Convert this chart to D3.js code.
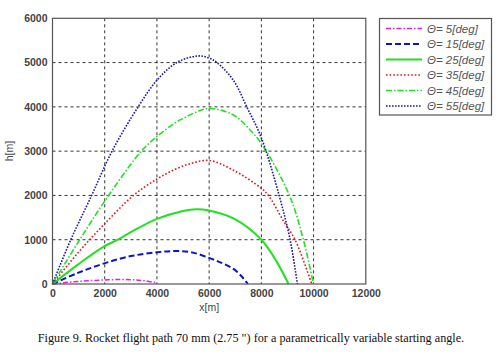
<!DOCTYPE html>
<html>
<head>
<meta charset="utf-8">
<script src="https://cdn.jsdelivr.net/npm/d3@7"></script>
<style>
  body { margin: 0; background: #fff; }
  svg { display: block; }
</style>
</head>
<body>
<svg id="chart" width="500" height="355"></svg>
<script>
// ---- Data ----
const xTicks = [0, 2000, 4000, 6000, 8000, 10000, 12000];
const yTicks = [0, 1000, 2000, 3000, 4000, 5000, 6000];

const angles = [5, 15, 25, 35, 45, 55];
const legendLabels = ["Θ= 5[deg]", "Θ= 15[deg]", "Θ= 25[deg]", "Θ= 35[deg]", "Θ= 45[deg]", "Θ= 55[deg]"];

const x5  = [0, 500, 1000, 1500, 2000, 2500, 3000, 3500, 4000];
const h5  = [0, 32, 58, 78, 92, 100, 97, 75, 25];

const x15 = [0, 930, 1950, 3000, 4000, 4700, 5300, 6000, 6500, 6930, 7250, 7480];
const h15 = [0, 240, 460, 630, 715, 745, 720, 590, 470, 340, 170, 0];

const x25 = [0, 1000, 1950, 2500, 3000, 4000, 5000, 5500, 6000, 6930, 8000, 8590, 9040];
const h25 = [0, 450, 840, 1000, 1170, 1470, 1650, 1690, 1660, 1480, 1000, 500, 0];

const x35 = [0, 1000, 1950, 3100, 4000, 4700, 5300, 6000, 6930, 8000, 8270, 8850, 9290, 9930];
const h35 = [0, 720, 1330, 2000, 2370, 2590, 2720, 2790, 2570, 2160, 2000, 1420, 1000, 0];

const x45 = [0, 1000, 2150, 3400, 4000, 4700, 5000, 5500, 6000, 6930, 7570, 8080, 9075, 9610, 9994];
const h45 = [0, 960, 2000, 3000, 3330, 3640, 3740, 3880, 3965, 3816, 3477, 3100, 2000, 1000, 0];

const x55 = [0, 700, 1500, 2280, 3280, 4000, 4760, 5580, 6000, 6300, 6930, 7440, 8000, 8680, 9100, 9380];
const h55 = [0, 1000, 2000, 3000, 4000, 4600, 5000, 5150, 5100, 5000, 4600, 4000, 3300, 2000, 1000, 0];

const seriesX = [x5, x15, x25, x35, x45, x55];
const seriesH = [h5, h15, h25, h35, h45, h55];

// ---- Styles ----
const colors = ["#e020e0", "#0a14c8", "#22e022", "#e01818", "#22e022", "#1a1aa8"];
const dashes = ["5,2,1.5,2", "6,3", null, "1.6,2", "6,2,1.5,2", "1.6,1.4"];
const widths = [1.5, 2, 2, 1.6, 1.6, 1.6];

// ---- Layout ----
const svg = d3.select("#chart");
const L = 52.5, R = 365.8, T = 18.3, B = 284;

const x = d3.scaleLinear().domain([0, 12000]).range([L, R]);
const y = d3.scaleLinear().domain([0, 6000]).range([B, T]);

// grid
const grid = svg.append("g");
grid.selectAll("line.vx").data(xTicks.slice(1, -1)).join("line")
  .attr("x1", d => x(d)).attr("x2", d => x(d))
  .attr("y1", T).attr("y2", B)
  .attr("stroke", "#333").attr("stroke-width", 1).attr("stroke-dasharray", "3,3");
grid.selectAll("line.hy").data(yTicks.slice(1, -1)).join("line")
  .attr("x1", L).attr("x2", R)
  .attr("y1", d => y(d)).attr("y2", d => y(d))
  .attr("stroke", "#333").attr("stroke-width", 1).attr("stroke-dasharray", "3,3");

// curves
const lineGen = d3.line().x(d => x(d[0])).y(d => y(d[1])).curve(d3.curveCatmullRom.alpha(0.5));
const plot = svg.append("g");
angles.forEach((a, i) => {
  const pts = seriesX[i].map((v, j) => [v, seriesH[i][j]]);
  plot.append("path")
    .attr("d", lineGen(pts))
    .attr("fill", "none")
    .attr("stroke", colors[i])
    .attr("stroke-width", widths[i])
    .attr("stroke-dasharray", dashes[i]);
});

// frame
svg.append("rect").attr("x", L).attr("y", T).attr("width", R - L).attr("height", B - T)
  .attr("fill", "none").attr("stroke", "#555").attr("stroke-width", 1.2);

// axes (tick labels)
const xAxis = d3.axisBottom(x).tickValues(xTicks).tickSize(0).tickPadding(6).tickFormat(d3.format("d"));
const yAxis = d3.axisLeft(y).tickValues(yTicks).tickSize(0).tickPadding(5).tickFormat(d3.format("d"));
const gx = svg.append("g").attr("transform", `translate(0,${B})`).call(xAxis);
const gy = svg.append("g").attr("transform", `translate(${L},0)`).call(yAxis);
[gx, gy].forEach(g => {
  g.select(".domain").remove();
  g.selectAll("text").attr("font-family", "Liberation Sans, Arial, sans-serif")
    .attr("font-size", 10.5).attr("font-weight", "bold").attr("fill", "#444");
});

// axis titles
svg.append("text").attr("x", x(6000)).attr("y", 311).attr("text-anchor", "middle")
  .attr("font-family", "Liberation Sans, Arial, sans-serif").attr("font-size", 10.5).attr("fill", "#444")
  .text("x[m]");
svg.append("text").attr("transform", `translate(13,${y(3000)}) rotate(-90)`).attr("text-anchor", "middle")
  .attr("font-family", "Liberation Sans, Arial, sans-serif").attr("font-size", 10.5).attr("fill", "#444")
  .text("h[m]");

// legend
const lg = svg.append("g");
lg.append("rect").attr("x", 379.5).attr("y", 18.5).attr("width", 112).attr("height", 96.5)
  .attr("fill", "#fff").attr("stroke", "#555").attr("stroke-width", 1.2);
angles.forEach((a, i) => {
  const yy = 28.5 + i * 15.5;
  lg.append("line").attr("x1", 386).attr("x2", 422).attr("y1", yy).attr("y2", yy)
    .attr("stroke", colors[i]).attr("stroke-width", widths[i]).attr("stroke-dasharray", dashes[i]);
  lg.append("text").attr("x", 427).attr("y", yy + 4)
    .attr("font-family", "Liberation Sans, Arial, sans-serif").attr("font-size", 11.5)
    .attr("font-style", "italic").attr("fill", "#555").text(legendLabels[i]);
});

// caption
svg.append("text").attr("x", 251).attr("y", 342).attr("text-anchor", "middle")
  .attr("font-family", "Liberation Serif, Times New Roman, serif").attr("font-size", 12.2).attr("fill", "#111")
  .text("Figure 9. Rocket flight path 70 mm (2.75 \") for a parametrically variable starting angle.");
</script>
</body>
</html>
